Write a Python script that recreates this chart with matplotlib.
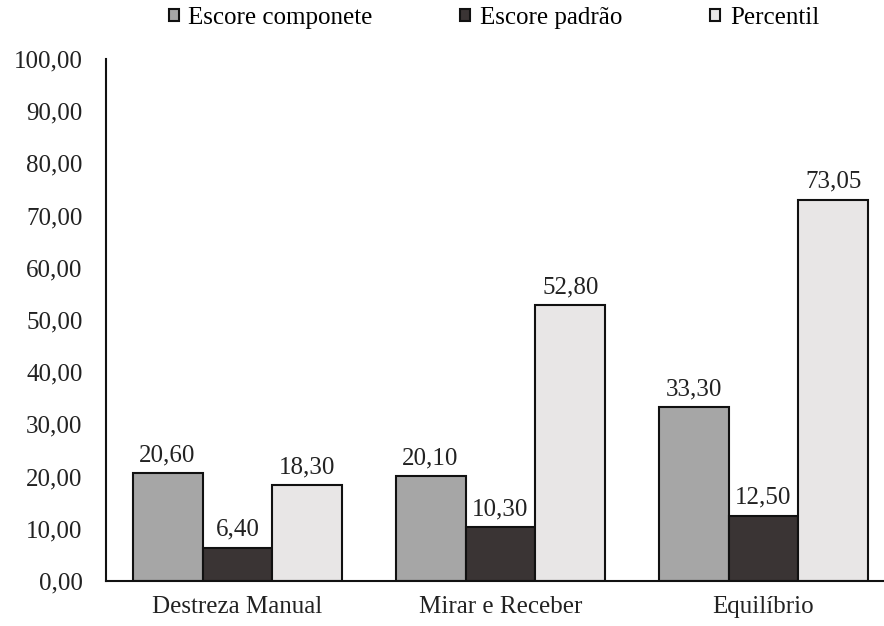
import matplotlib
matplotlib.use("Agg")
import matplotlib.pyplot as plt
import numpy as np

plt.rcParams["font.family"] = ["Liberation Serif", "DejaVu Serif"]

CATEGORIES = ["Destreza Manual", "Mirar e Receber", "Equilíbrio"]
SERIES = ["Escore componete", "Escore padrão", "Percentil"]
COMPONENTE = [20.60, 20.10, 33.30]
PADRAO = [6.40, 10.30, 12.50]
PERCENTIL = [18.30, 52.80, 73.05]

COLORS = ["#a6a6a6", "#3a3434", "#e8e6e6"]
FS = 18


def fmt(v):
    return f"{v:.2f}".replace(".", ",")


fig = plt.figure(figsize=(8.84, 6.26), dpi=100)
ax = fig.add_axes([106 / 884, 1 - 581 / 626, 1 - 106 / 884, (581 - 59) / 626])

x = np.arange(len(CATEGORIES))
w = 0.266
handles = []
for i, (vals, name) in enumerate(zip([COMPONENTE, PADRAO, PERCENTIL], SERIES)):
    bars = ax.bar(x + (i - 1) * w, vals, width=w, color=COLORS[i],
                  edgecolor="#111", linewidth=1.5, label=name)
    handles.append(bars)
    for xi, v in zip(x + (i - 1) * w, vals):
        ax.annotate(fmt(v), (xi, v), xytext=(0, 5), textcoords="offset points",
                    ha="center", va="bottom", fontsize=FS, color="#222")

ax.set_ylim(0, 100)
ax.set_xlim(-0.5, (884 - 106) / 263 - 0.5)
ax.set_yticks(np.arange(0, 101, 10))
ax.set_yticklabels([fmt(v) for v in np.arange(0, 101, 10)], fontsize=FS, color="#222")
ax.set_xticks(x)
ax.set_xticklabels(CATEGORIES, fontsize=FS, color="#222")
ax.tick_params(axis="y", length=0, pad=17)
ax.tick_params(axis="x", length=0, pad=11)
for s in ("top", "right"):
    ax.spines[s].set_visible(False)
for s in ("left", "bottom"):
    ax.spines[s].set_linewidth(1.5)
    ax.spines[s].set_color("#111")

fig.legend(handles=handles, labels=SERIES, loc="center",
           bbox_to_anchor=(494 / 884, 1 - 18 / 626), ncol=3, frameon=False,
           fontsize=FS, handlelength=0.4, handleheight=0.4, handletextpad=0.4,
           columnspacing=3.5, borderpad=0)

fig.savefig("out.png", dpi=100, facecolor="white")
